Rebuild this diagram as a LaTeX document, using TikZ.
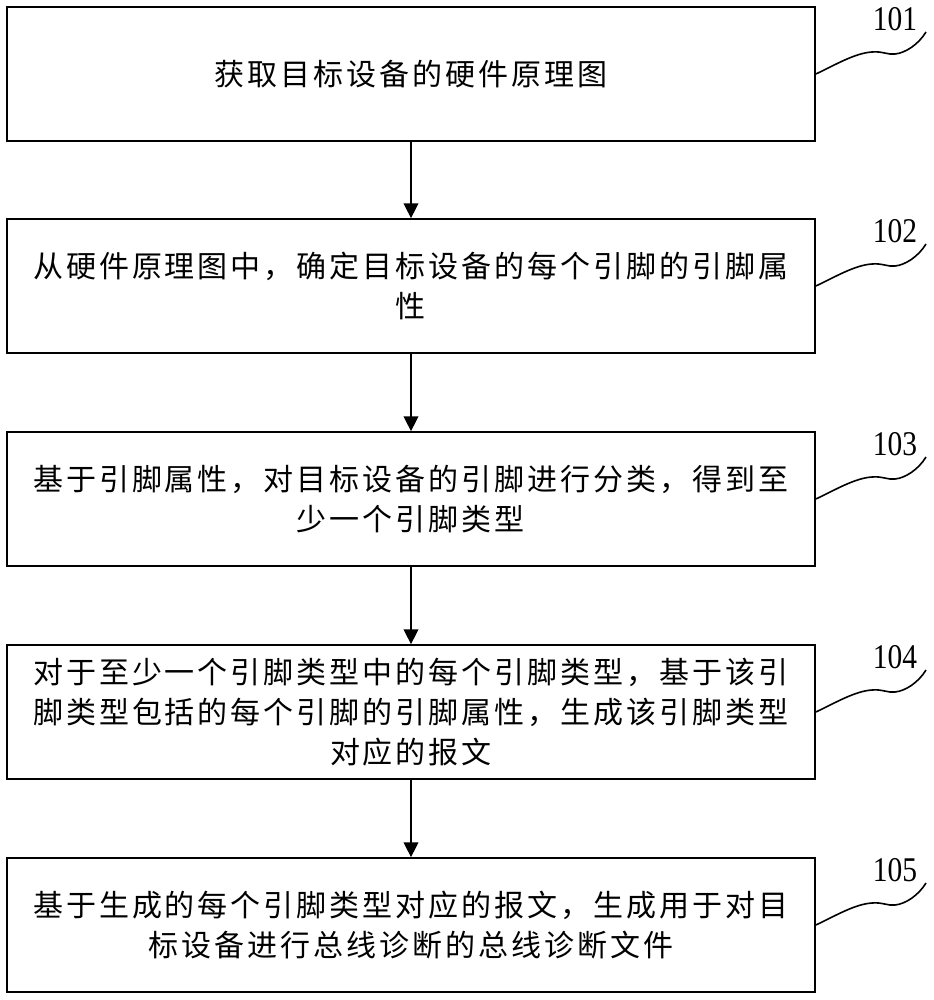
\documentclass[tikz,border=0pt]{standalone}
\usepackage{fontspec}
\usepackage{graphicx}
\setmainfont{Liberation Serif}
\newfontfamily\cjk[LetterSpace=10]{Noto Sans CJK SC}
\usetikzlibrary{arrows.meta}
\begin{document}
\begin{tikzpicture}[x=0.75pt,y=-0.75pt,
  box/.style={draw, line width=1.3pt, minimum width=606pt, minimum height=100.5pt,
    inner sep=0pt, align=center, font=\cjk\fontsize{22.5pt}{30pt}\selectfont},
  flow/.style={line width=1pt, -{Triangle[length=11pt,width=11pt]}},
  leader/.style={line width=1.2pt},
  num/.style={font=\fontsize{26pt}{26pt}\selectfont, inner sep=0pt}]
\useasboundingbox (0,0) rectangle (934,1000);
\fill[white] (0,0) rectangle (934,1000);

\node[box] (b1) at (411,74) {获取目标设备的硬件原理图};
\node[box] (b2) at (411,286) {从硬件原理图中，确定目标设备的每个引脚的引脚属\\性};
\node[box] (b3) at (411,499) {基于引脚属性，对目标设备的引脚进行分类，得到至\\少一个引脚类型};
\node[box] (b4) at (411,712) {对于至少一个引脚类型中的每个引脚类型，基于该引\\脚类型包括的每个引脚的引脚属性，生成该引脚类型\\对应的报文};
\node[box] (b5) at (411,925) {基于生成的每个引脚类型对应的报文，生成用于对目\\标设备进行总线诊断的总线诊断文件};

\draw[flow] (b1.south) -- (b2.north);
\draw[flow] (b2.south) -- (b3.north);
\draw[flow] (b3.south) -- (b4.north);
\draw[flow] (b4.south) -- (b5.north);

\foreach \i/\t in {1/7,2/219,3/432,4/645,5/858}{
  \begin{scope}[shift={(0,\t)}]
    \node[num] (n\i) at (895,12) {\scalebox{0.85}[1]{10\i}};
    \coordinate (e\i) at (926,25);
    \draw[leader] (b\i.east) .. controls (835,58) and (855,46) .. (872,45)
      .. controls (882,44) and (888,48) .. (895,47)
      .. controls (905,46) and (918,38) .. (e\i);
  \end{scope}
}
\end{tikzpicture}
\end{document}
